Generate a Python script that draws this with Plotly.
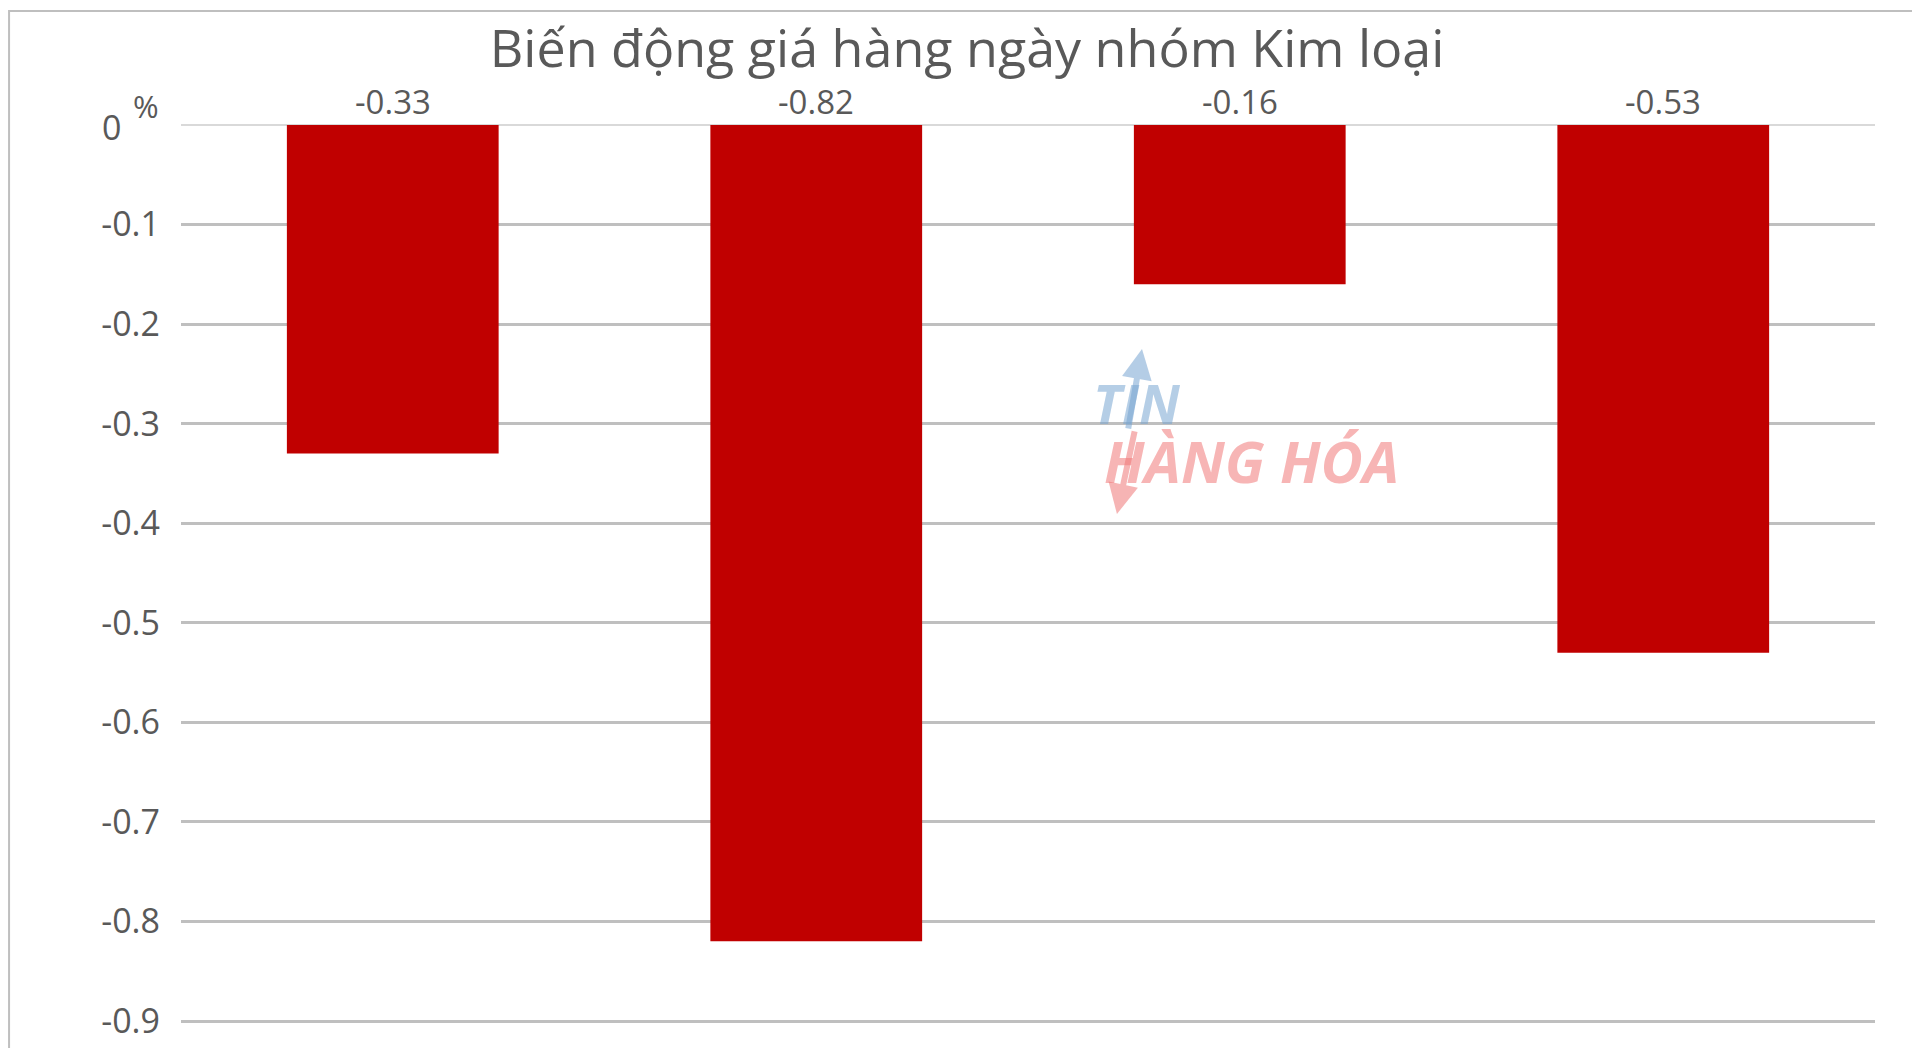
import plotly.graph_objects as go

categories = ["A", "B", "C", "D"]
values = [-0.33, -0.82, -0.16, -0.53]
tick_vals = [0, -0.1, -0.2, -0.3, -0.4, -0.5, -0.6, -0.7, -0.8, -0.9]
tick_text = ["", "-0.1", "-0.2", "-0.3", "-0.4", "-0.5", "-0.6", "-0.7", "-0.8", "-0.9"]
zero_label = "0"
title_text = "Biến động giá hàng ngày nhóm Kim loại"
unit_text = "%"

FONT = "Open Sans"
GREY = "#595959"

fig = go.Figure()
fig.add_trace(go.Bar(
    x=categories, y=values, marker=dict(color="#C00000", line=dict(width=0)),
    showlegend=False, hoverinfo="skip",
))

# data labels above zero line
for c, v in zip(categories, values):
    fig.add_annotation(x=c, y=0, text=f"{v:.2f}", showarrow=False, yanchor="bottom",
                       yshift=-1, font=dict(family=FONT, size=33, color=GREY))

# zero tick label (left-aligned like the other labels)
fig.add_annotation(xref="paper", yref="y", x=-0.0478, y=tick_vals[0], text=zero_label,
                   showarrow=False, xanchor="left", yanchor="middle", yshift=-2,
                   font=dict(family=FONT, size=34, color=GREY))

# unit label
fig.add_annotation(xref="paper", yref="paper", x=-0.0205, y=1.0205, text=unit_text,
                   showarrow=False, xanchor="center", yanchor="middle",
                   font=dict(family=FONT, size=31, color=GREY))

# watermark
BLUE_W = "rgba(120,165,210,0.55)"
RED_W = "rgba(240,120,120,0.55)"
fig.add_annotation(xref="paper", yref="paper", x=0.5644, y=0.6985, text="<b><i>TIN</i></b>",
                   showarrow=False, xanchor="center", yanchor="middle",
                   font=dict(family=FONT, size=54, color=BLUE_W))
fig.add_annotation(xref="paper", yref="paper", x=0.6317, y=0.637, text="<b><i>HÀNG HÓA</i></b>",
                   showarrow=False, xanchor="center", yanchor="middle",
                   font=dict(family=FONT, size=58, color=RED_W))
fig.add_annotation(xref="paper", yref="paper", x=0.5673, y=0.7573, ax=-14, ay=81,
                   axref="pixel", ayref="pixel", text="", showarrow=True, arrowhead=2,
                   arrowsize=1, arrowwidth=6, arrowcolor=BLUE_W)
fig.add_annotation(xref="paper", yref="paper", x=0.5525, y=0.5786, ax=18, ay=-84,
                   axref="pixel", ayref="pixel", text="", showarrow=True, arrowhead=2,
                   arrowsize=1, arrowwidth=6, arrowcolor=RED_W)

# outer border
fig.add_shape(type="rect", xref="paper", yref="paper", x0=-0.1015, x1=1.0230, y0=-0.1, y1=1.1235,
              line=dict(color="#bfbfbf", width=2), fillcolor="rgba(0,0,0,0)", layer="below")

fig.update_layout(
    width=1920, height=1048,
    margin=dict(l=173, r=53, t=117, b=8),
    paper_bgcolor="white", plot_bgcolor="white",
    bargap=0.5,
    title=dict(text=title_text, x=0.4995, xanchor="center", y=0.961, yanchor="middle",
               font=dict(family=FONT, size=52, color=GREY)),
    xaxis=dict(showticklabels=False, showgrid=False, zeroline=False, showline=False,
               ticks=""),
    yaxis=dict(range=[-0.9271, 0], tickvals=tick_vals, ticktext=tick_text,
               showgrid=True, gridcolor="#bfbfbf", gridwidth=3,
               zeroline=True, zerolinecolor="#d9d9d9", zerolinewidth=2,
               showline=False, ticks="", ticklabelstandoff=20,
               tickfont=dict(family=FONT, size=34, color=GREY)),
)

fig.write_html("out.html")
